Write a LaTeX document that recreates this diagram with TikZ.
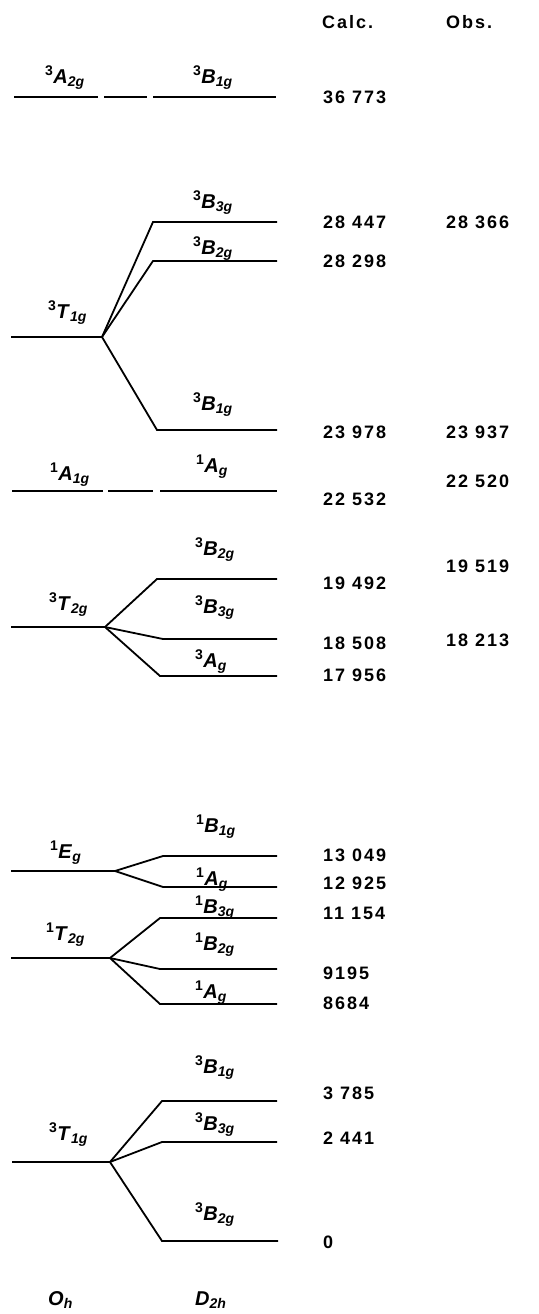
\documentclass[tikz,border=0pt]{standalone}
\usepackage{fontspec}
\setmainfont{Liberation Sans}
\newfontfamily\numfont[LetterSpace=11]{Liberation Sans}
\newcommand{\irr}[3]{\textsuperscript{#1}\textit{#2}\textsubscript{\textit{#3}}}

\begin{document}
\begin{tikzpicture}[
  x=1pt,y=-1pt,
  lvl/.style={line width=1.8pt},
  irrep/.style={anchor=base west,inner sep=0pt,font=\bfseries\fontsize{20}{22}\selectfont},
  energy/.style={anchor=west,inner sep=0pt,font=\numfont\bfseries\fontsize{18}{20}\selectfont}
]
\useasboundingbox (0,0) rectangle (538,1314);
\node[energy] (calc) at (322,22) {Calc.};
\node[energy] (obs) at (446,22) {Obs.};
% 3A2g
\coordinate (a2a) at (14,97); \coordinate (a2b) at (98,97);
\coordinate (a2c) at (104,97); \coordinate (a2d) at (147,97);
\coordinate (a2e) at (153,97); \coordinate (a2f) at (276,97);
\draw[lvl] (a2a)--(a2b); \draw[lvl] (a2c)--(a2d); \draw[lvl] (a2e)--(a2f);
\node[irrep] (lA2g) at (45,83) {\irr{3}{A}{2g}};
\node[irrep] (lB1ga) at (193,83) {\irr{3}{B}{1g}};
\node[energy] (e36773) at (323,97) {36 773};
% 3T1g (upper)
\coordinate (t1a) at (11,337); \coordinate (t1j) at (102,337);
\coordinate (t1b3s) at (153,222); \coordinate (t1b3e) at (277,222);
\coordinate (t1b2s) at (153,261); \coordinate (t1b2e) at (277,261);
\coordinate (t1b1s) at (157,430); \coordinate (t1b1e) at (277,430);
\draw[lvl] (t1a)--(t1j);
\draw[lvl] (t1j)--(t1b3s)--(t1b3e);
\draw[lvl] (t1j)--(t1b2s)--(t1b2e);
\draw[lvl] (t1j)--(t1b1s)--(t1b1e);
\node[irrep] (lT1ga) at (48,318) {\irr{3}{T}{1g}};
\node[irrep] (lB3ga) at (193,208) {\irr{3}{B}{3g}};
\node[irrep] (lB2ga) at (193,254) {\irr{3}{B}{2g}};
\node[irrep] (lB1gb) at (193,410) {\irr{3}{B}{1g}};
\node[energy] (e28447) at (323,222) {28 447};
\node[energy] (o28366) at (446,222) {28 366};
\node[energy] (e28298) at (323,261) {28 298};
\node[energy] (e23978) at (323,432) {23 978};
\node[energy] (o23937) at (446,432) {23 937};
% 1A1g
\coordinate (a1a) at (12,491); \coordinate (a1b) at (103,491);
\coordinate (a1c) at (108,491); \coordinate (a1d) at (153,491);
\coordinate (a1e) at (160,491); \coordinate (a1f) at (277,491);
\draw[lvl] (a1a)--(a1b); \draw[lvl] (a1c)--(a1d); \draw[lvl] (a1e)--(a1f);
\node[irrep] (lA1g) at (50,480) {\irr{1}{A}{1g}};
\node[irrep] (lAga) at (196,472) {\irr{1}{A}{g}};
\node[energy] (e22532) at (323,499) {22 532};
\node[energy] (o22520) at (446,481) {22 520};
% 3T2g
\coordinate (t2a) at (11,627); \coordinate (t2j) at (105,627);
\coordinate (t2b2s) at (157,579); \coordinate (t2b2e) at (277,579);
\coordinate (t2b3s) at (163,639); \coordinate (t2b3e) at (277,639);
\coordinate (t2ags) at (160,676); \coordinate (t2age) at (277,676);
\draw[lvl] (t2a)--(t2j);
\draw[lvl] (t2j)--(t2b2s)--(t2b2e);
\draw[lvl] (t2j)--(t2b3s)--(t2b3e);
\draw[lvl] (t2j)--(t2ags)--(t2age);
\node[irrep] (lT2g) at (49,610) {\irr{3}{T}{2g}};
\node[irrep] (lB2gb) at (195,555) {\irr{3}{B}{2g}};
\node[irrep] (lB3gb) at (195,613) {\irr{3}{B}{3g}};
\node[irrep] (lAgb) at (195,667) {\irr{3}{A}{g}};
\node[energy] (e19492) at (323,583) {19 492};
\node[energy] (o19519) at (446,566) {19 519};
\node[energy] (e18508) at (323,643) {18 508};
\node[energy] (o18213) at (446,640) {18 213};
\node[energy] (e17956) at (323,675) {17 956};
% 1Eg
\coordinate (ega) at (11,871); \coordinate (egj) at (115,871);
\coordinate (egb1s) at (163,856); \coordinate (egb1e) at (277,856);
\coordinate (egags) at (163,887); \coordinate (egage) at (277,887);
\draw[lvl] (ega)--(egj);
\draw[lvl] (egj)--(egb1s)--(egb1e);
\draw[lvl] (egj)--(egags)--(egage);
\node[irrep] (lEg) at (50,858) {\irr{1}{E}{g}};
\node[irrep] (lB1gc) at (196,832) {\irr{1}{B}{1g}};
\node[irrep] (lAgc) at (196,885) {\irr{1}{A}{g}};
\node[energy] (e13049) at (323,855) {13 049};
\node[energy] (e12925) at (323,883) {12 925};
% 1T2g
\coordinate (s2a) at (11,958); \coordinate (s2j) at (110,958);
\coordinate (s2b3s) at (160,918); \coordinate (s2b3e) at (277,918);
\coordinate (s2b2s) at (160,969); \coordinate (s2b2e) at (277,969);
\coordinate (s2ags) at (160,1004); \coordinate (s2age) at (277,1004);
\draw[lvl] (s2a)--(s2j);
\draw[lvl] (s2j)--(s2b3s)--(s2b3e);
\draw[lvl] (s2j)--(s2b2s)--(s2b2e);
\draw[lvl] (s2j)--(s2ags)--(s2age);
\node[irrep] (lT2gs) at (46,940) {\irr{1}{T}{2g}};
\node[irrep] (lB3gc) at (195,913) {\irr{1}{B}{3g}};
\node[irrep] (lB2gc) at (195,950) {\irr{1}{B}{2g}};
\node[irrep] (lAgd) at (195,998) {\irr{1}{A}{g}};
\node[energy] (e11154) at (323,913) {11 154};
\node[energy] (e9195) at (323,973) {9195};
\node[energy] (e8684) at (323,1003) {8684};
% 3T1g (ground)
\coordinate (g1a) at (12,1162); \coordinate (g1j) at (110,1162);
\coordinate (g1b1s) at (162,1101); \coordinate (g1b1e) at (277,1101);
\coordinate (g1b3s) at (162,1142); \coordinate (g1b3e) at (277,1142);
\coordinate (g1b2s) at (162,1241); \coordinate (g1b2e) at (278,1241);
\draw[lvl] (g1a)--(g1j);
\draw[lvl] (g1j)--(g1b1s)--(g1b1e);
\draw[lvl] (g1j)--(g1b3s)--(g1b3e);
\draw[lvl] (g1j)--(g1b2s)--(g1b2e);
\node[irrep] (lT1gb) at (49,1140) {\irr{3}{T}{1g}};
\node[irrep] (lB1gd) at (195,1073) {\irr{3}{B}{1g}};
\node[irrep] (lB3gd) at (195,1130) {\irr{3}{B}{3g}};
\node[irrep] (lB2gd) at (195,1220) {\irr{3}{B}{2g}};
\node[energy] (e3785) at (323,1093) {3 785};
\node[energy] (e2441) at (323,1138) {2 441};
\node[energy] (e0) at (323,1242) {0};
% point groups
\node[irrep] (oh) at (48,1305) {\textit{O}\textsubscript{\textit{h}}};
\node[irrep] (d2h) at (195,1305) {\textit{D}\textsubscript{\textit{2h}}};
\end{tikzpicture}
\end{document}
